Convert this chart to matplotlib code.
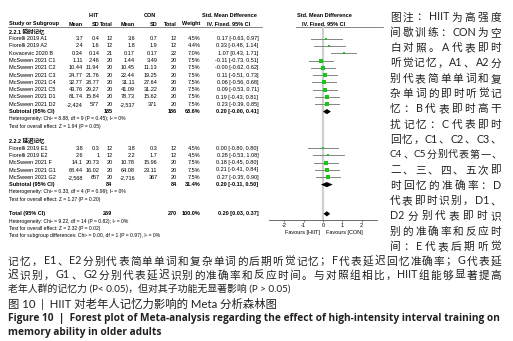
import re
import matplotlib
matplotlib.use("Agg")
import matplotlib.pyplot as plt
from matplotlib.patches import Polygon

# ---- data ----
g1_names = ["Fiorelli 2019 A1", "Fiorelli 2019 A2", "Kovacevic 2020 B", "McSween 2021 C1",
            "McSween 2021 C2", "McSween 2021 C3", "McSween 2021 C4", "McSween 2021 C5",
            "McSween 2021 D1", "McSween 2021 D2"]
g1_hiit_mean = ["3.7", "2.4", "0.34", "1.11", "10.44", "24.77", "32.77", "43.76", "81.74", "-2,424"]
g1_hiit_sd = ["0.4", "1.6", "0.14", "2.46", "11.94", "21.76", "28.77", "29.27", "15.84", "577"]
g1_hiit_n = [12, 12, 21, 20, 20, 20, 20, 20, 20, 20]
g1_con_mean = ["3.6", "1.8", "0.17", "1.44", "10.45", "22.44", "31.11", "41.09", "78.73", "-2,537"]
g1_con_sd = ["0.7", "1.9", "0.17", "3.49", "11.13", "19.25", "27.64", "31.22", "15.62", "371"]
g1_con_n = [12, 12, 22, 20, 20, 20, 20, 20, 20, 20]
g1_weight = [4.5, 4.4, 7.0, 7.5, 7.5, 7.5, 7.5, 7.5, 7.5, 7.5]
g1_smd = [0.17, 0.33, 1.07, -0.11, -0.0, 0.11, 0.06, 0.09, 0.19, 0.23]
g1_lo = [-0.63, -0.48, 0.43, -0.73, -0.62, -0.51, -0.56, -0.53, -0.43, -0.39]
g1_hi = [0.97, 1.14, 1.71, 0.51, 0.62, 0.73, 0.68, 0.71, 0.81, 0.85]

g2_names = ["Fiorelli 2019 E1", "Fiorelli 2019 E2", "McSween 2021 F", "McSween 2021 G1", "McSween 2021 G2"]
g2_hiit_mean = ["3.8", "2.6", "14.1", "68.44", "-2,568"]
g2_hiit_sd = ["0.3", "1", "20.73", "16.02", "657"]
g2_hiit_n = [12, 12, 20, 20, 20]
g2_con_mean = ["3.8", "2.2", "10.78", "64.08", "-2,716"]
g2_con_sd = ["0.3", "1.7", "15.96", "23.11", "367"]
g2_con_n = [12, 12, 20, 20, 20]
g2_weight = [4.5, 4.5, 7.5, 7.5, 7.5]
g2_smd = [0.0, 0.28, 0.18, 0.21, 0.27]
g2_lo = [-0.80, -0.53, -0.45, -0.41, -0.35]
g2_hi = [0.80, 1.08, 0.80, 0.84, 0.90]

group_titles = ["2.2.1 瞬时记忆", "2.2.2 延迟记忆"]
sub_hiit_n = [185, 84]
sub_con_n = [186, 84]
sub_weight = [68.6, 31.4]
sub_smd = [0.20, 0.20]
sub_lo = [-0.0, -0.11]
sub_hi = [0.41, 0.50]
sub_het = ["Heterogeneity: Chi² = 8.88, df = 9 (P = 0.45); I² = 0%",
           "Heterogeneity: Chi² = 0.33, df = 4 (P = 0.99); I² = 0%"]
sub_test = ["Test for overall effect: Z = 1.94 (P = 0.05)",
            "Test for overall effect: Z = 1.27 (P = 0.20)"]

total_n = [269, 270]
total_weight = 100.0
total_smd, total_lo, total_hi = 0.20, 0.03, 0.37
total_notes = ["Heterogeneity: Chi² = 9.22, df = 14 (P = 0.82); I² = 0%",
               "Test for overall effect: Z = 2.32 (P = 0.02)",
               "Test for subgroup differences: Chi² = 0.00, df = 1 (P = 0.97), I² = 0%"]
axis_ticks = [-2, -1, 0, 1, 2]

side_lines = ["图注：HIIT 为高强度", "间歇训练：CON 为空", "白对照。A 代表即时",
              "听觉记忆，A1、A2 分", "别代表简单单词和复", "杂单词的即时听觉记",
              "忆：B 代表即时高干", "扰记忆：C 代表即时", "回 忆，C1、C2、C3、",
              "C4、C5 分别代表第一、", "二、三、四、五次即", "时回忆的准确率：D",
              "代表即时识别，D1、", "D2 分别代表即时识", "别的准确率和反应时",
              "间：E 代表后期听觉"]
wide_lines = ["记忆，E1、E2 分别代表简单单词和复杂单词的后期听觉记忆；F 代表延迟回忆准确率；G 代表延",
              "迟识别，G1、G2 分别代表延迟识别的准确率和反应时间。与对照组相比，HIIT 组能够显著提高"]
last_line = "老年人群的记忆力 (P< 0.05)，但对其子功能无显著影响 (P > 0.05)"
caption_cn = "图 10  |  HIIT 对老年人记忆力影响的 Meta 分析森林图"
caption_en = ["Figure 10  |  Forest plot of Meta-analysis regarding the effect of high-intensity interval training on",
              "memory ability in older adults"]

# ---- layout ----
W, H = 513, 341
fig = plt.figure(figsize=(W / 100, H / 100), dpi=100)
ax = fig.add_axes([0, 0, 1, 1])
ax.set_xlim(0, W)
ax.set_ylim(H, 0)
ax.axis("off")

TAB = ["Liberation Sans", "Noto Sans CJK SC"]
CJK = ["Lato", "Noto Sans CJK SC", "DejaVu Sans"]
fs = 4.0
fs_note = 3.6
y0, dy = 24.0, 7.3


def row_y(i):
    return y0 + dy * i


col_x = [83, 99.5, 112.5, 135, 157.5, 177, 200.5, 258.5]


def cells(y, vals, bold=False):
    for x, v in zip(col_x, vals):
        if v == "":
            continue
        ax.text(x, y, v, ha="right", va="center", fontsize=fs, family=TAB,
                fontweight="bold" if bold else "normal")


def txt(x, y, s, bold=False, ha="left", size=fs):
    ax.text(x, y, s, ha=ha, va="center", fontsize=size, family=TAB,
            fontweight="bold" if bold else "normal")


# headers
txt(94, row_y(-1.1), "HIIT", bold=True, ha="center")
txt(150, row_y(-1.1), "CON", bold=True, ha="center")
txt(229, row_y(-1.1), "Std. Mean Difference", bold=True, ha="center")
txt(324, row_y(-1.1), "Std. Mean Difference", bold=True, ha="center")
txt(9, row_y(0), "Study or Subgroup", bold=True)
cells(row_y(0), ["Mean", "SD", "Total", "Mean", "SD", "Total", "Weight", ""], bold=True)
txt(229, row_y(0), "IV. Fixed. 95% CI", bold=True, ha="center")
txt(324, row_y(0), "IV. Fixed. 95% CI", bold=True, ha="center")
ax.plot([8, 262], [row_y(0.45)] * 2, color="#555555", lw=0.5)
ax.plot([296, 383], [row_y(0.45)] * 2, color="#555555", lw=0.5)

# forest axes in SMD units
fx0, fx1 = 263, 383
fax = fig.add_axes([fx0 / W, 0, (fx1 - fx0) / W, 1])
half = (fx1 - fx0) / 2 / 19.3
fax.set_xlim(-half, half)
fax.set_ylim(H, 0)
fax.patch.set_alpha(0)
for s in ["top", "left", "right"]:
    fax.spines[s].set_visible(False)
axis_y = row_y(26.8)
fax.spines["bottom"].set_position(("data", axis_y))
fax.spines["bottom"].set_bounds(-2.8, 2.8)
fax.spines["bottom"].set_color("#555555")
fax.spines["bottom"].set_linewidth(0.6)
fax.set_yticks([])
fax.set_xticks(axis_ticks)
fax.set_xticklabels([str(t) for t in axis_ticks], fontsize=fs, family=TAB)
fax.tick_params(axis="x", length=1.6, width=0.5, pad=1, colors="#555555", labelcolor="black")
fax.plot([0, 0], [row_y(0.45), axis_y], color="#cfcfcf", lw=1.6, zorder=0)
fax.text(-0.15, axis_y + 12.5, "Favours [HIIT]", ha="right", va="center", fontsize=fs, family=TAB)
fax.text(0.15, axis_y + 12.5, "Favours [CON]", ha="left", va="center", fontsize=fs, family=TAB)


def diamond(y, m, lo, hi):
    fax.add_patch(Polygon([[lo, y], [m, y - 2.6], [hi, y], [m, y + 2.6]],
                          closed=True, color="black", lw=0))


groups = [
    (g1_names, g1_hiit_mean, g1_hiit_sd, g1_hiit_n, g1_con_mean, g1_con_sd, g1_con_n,
     g1_weight, g1_smd, g1_lo, g1_hi),
    (g2_names, g2_hiit_mean, g2_hiit_sd, g2_hiit_n, g2_con_mean, g2_con_sd, g2_con_n,
     g2_weight, g2_smd, g2_lo, g2_hi),
]
r = 1
for gi, (nm, hm, hs, hn, cm, cs, cn, wt, smd, lo, hi) in enumerate(groups):
    txt(9, row_y(r), group_titles[gi], bold=True)
    r += 1
    for k in range(len(nm)):
        y = row_y(r)
        txt(9, y, nm[k])
        cells(y, [hm[k], hs[k], str(hn[k]), cm[k], cs[k], str(cn[k]), f"{wt[k]:.1f}%",
                  f"{smd[k]:.2f} [{lo[k]:.2f}, {hi[k]:.2f}]"])
        fax.plot([lo[k], hi[k]], [y, y], color="#858585", lw=0.7, zorder=2)
        fax.plot(smd[k], y, marker="s", ms=0.8 * wt[k] ** 0.5, color="#19c519",
                 mec="#19c519", mew=0, zorder=3)
        r += 1
    y = row_y(r)
    txt(9, y, "Subtotal (95% CI)", bold=True)
    cells(y, ["", "", str(sub_hiit_n[gi]), "", "", str(sub_con_n[gi]), f"{sub_weight[gi]:.1f}%",
              f"{sub_smd[gi]:.2f} [{sub_lo[gi]:.2f}, {sub_hi[gi]:.2f}]"], bold=True)
    diamond(y, sub_smd[gi], sub_lo[gi], sub_hi[gi])
    txt(9, row_y(r + 1), sub_het[gi], size=fs_note)
    txt(9, row_y(r + 2), sub_test[gi], size=fs_note)
    r += 4

y = row_y(r)
txt(9, y, "Total (95% CI)", bold=True)
cells(y, ["", "", str(total_n[0]), "", "", str(total_n[1]), f"{total_weight:.1f}%",
          f"{total_smd:.2f} [{total_lo:.2f}, {total_hi:.2f}]"], bold=True)
diamond(y, total_smd, total_lo, total_hi)
for k, s in enumerate(total_notes):
    txt(9, row_y(r + 1 + k), s, size=fs_note)

# ---- caption text (justified like the journal layout) ----
renderer = fig.canvas.get_renderer()
cfs = 7.7


def tok_width(t, size):
    if re.fullmatch(r"[!-~]+", t):
        tt = ax.text(0, 0, t, fontsize=size, family=CJK)
        w = tt.get_window_extent(renderer).width
        tt.remove()
        return w
    return size * 100 / 72


def justify(s, xa, xb, y, size=cfs, color="#231f20"):
    toks = re.findall(r"[!-~]+|\S", s)
    ws = [tok_width(t, size) for t in toks]
    # shrink a crowded line slightly so glyphs never collide
    while xb - xa - sum(ws) < 0.6 * (len(toks) - 1):
        size -= 0.1
        ws = [tok_width(t, size) for t in toks]
    gap = (xb - xa - sum(ws)) / (len(toks) - 1)
    x = xa
    for t, w in zip(toks, ws):
        ax.text(x, y, t, ha="left", va="center", fontsize=size, family=CJK, color=color)
        x += w + gap


for i, s in enumerate(side_lines):
    justify(s, 390, 501, 17 + 15.3 * i)
justify(wide_lines[0], 8, 501, 261)
justify(wide_lines[1], 8, 501, 275)
ax.text(8, 289, last_line, ha="left", va="center", fontsize=7.1, family=CJK, color="#231f20")
ax.text(8, 303.5, caption_cn, ha="left", va="center", fontsize=8.2, family=CJK, color="#231f20")
ax.text(8, 318, caption_en[0], ha="left", va="center", fontsize=7.3, family=["Open Sans", "DejaVu Sans"],
        fontweight="bold", color="#231f20")
ax.text(8, 332, caption_en[1], ha="left", va="center", fontsize=7.3, family=["Open Sans", "DejaVu Sans"],
        fontweight="bold", color="#231f20")

fig.savefig("out.png", dpi=100)
